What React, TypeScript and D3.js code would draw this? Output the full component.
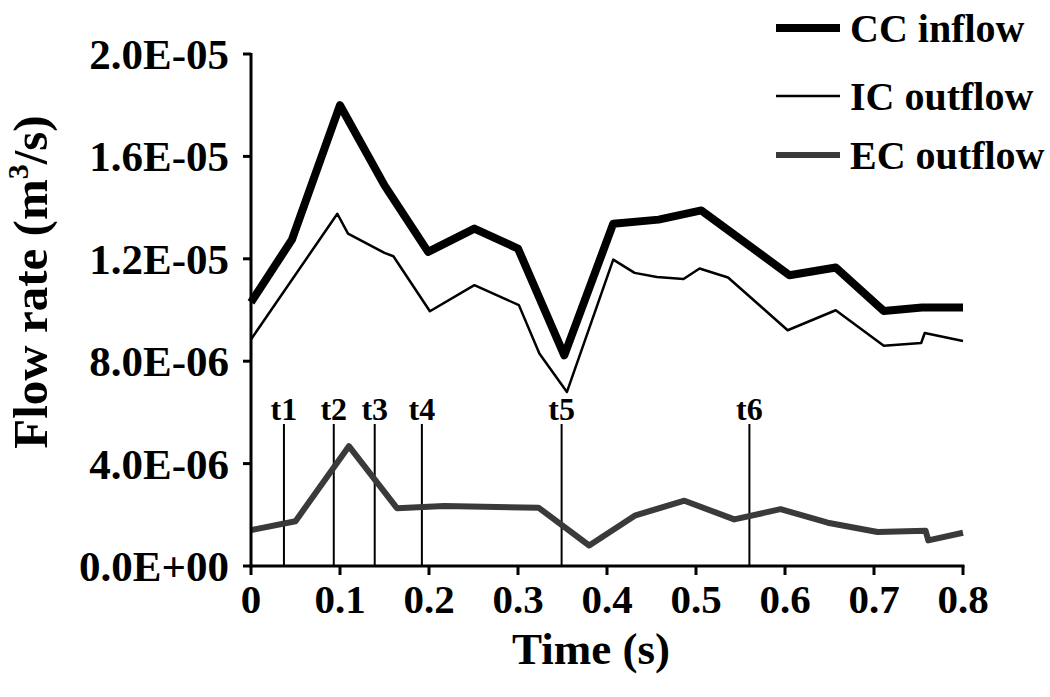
import React from "react";
import * as d3 from "d3";

const ccTime = [0, 0.046, 0.1, 0.15, 0.199, 0.251, 0.3, 0.352, 0.407, 0.458, 0.506, 0.605, 0.657, 0.711, 0.754, 0.8];
const ccFlow = [1.03e-5, 1.275e-5, 1.8e-5, 1.487e-5, 1.227e-5, 1.318e-5, 1.24e-5, 8.23e-6, 1.337e-5, 1.353e-5, 1.389e-5, 1.136e-5, 1.166e-5, 9.96e-6, 1.01e-5, 1.01e-5];

const icTime = [0, 0.097, 0.109, 0.15, 0.16, 0.201, 0.251, 0.301, 0.324, 0.355, 0.407, 0.431, 0.456, 0.486, 0.504, 0.536, 0.603, 0.657, 0.711, 0.753, 0.757, 0.8];
const icFlow = [8.85e-6, 1.376e-5, 1.298e-5, 1.223e-5, 1.21e-5, 9.95e-6, 1.097e-5, 1.019e-5, 8.3e-6, 6.8e-6, 1.197e-5, 1.145e-5, 1.129e-5, 1.121e-5, 1.162e-5, 1.127e-5, 9.21e-6, 9.99e-6, 8.6e-6, 8.71e-6, 9.1e-6, 8.79e-6];

const ecTime = [0, 0.05, 0.11, 0.164, 0.217, 0.323, 0.38, 0.432, 0.487, 0.543, 0.595, 0.648, 0.704, 0.758, 0.761, 0.8];
const ecFlow = [1.4e-6, 1.75e-6, 4.68e-6, 2.26e-6, 2.34e-6, 2.28e-6, 0.8e-6, 1.98e-6, 2.55e-6, 1.82e-6, 2.22e-6, 1.69e-6, 1.33e-6, 1.38e-6, 1.0e-6, 1.3e-6];

const markerTimes = [0.037, 0.093, 0.139, 0.192, 0.349, 0.56];
const markerLabels = ["t1", "t2", "t3", "t4", "t5", "t6"];

const xTicks = [0, 0.1, 0.2, 0.3, 0.4, 0.5, 0.6, 0.7, 0.8];
const xTickLabels = ["0", "0.1", "0.2", "0.3", "0.4", "0.5", "0.6", "0.7", "0.8"];
const yTicks = [0, 4e-6, 8e-6, 1.2e-5, 1.6e-5, 2e-5];
const yTickLabels = ["0.0E+00", "4.0E-06", "8.0E-06", "1.2E-05", "1.6E-05", "2.0E-05"];

const seriesNames = ["CC inflow", "IC outflow", "EC outflow"];

const FONT = "'Liberation Serif', 'Times New Roman', serif";

export default function App() {
  const x = d3.scaleLinear().domain([0, 0.8]).range([251, 963]);
  const y = d3.scaleLinear().domain([0, 2e-5]).range([566, 54]);

  const mk = (t: number[], v: number[]) =>
    d3
      .line<number>()
      .x((_, i) => x(t[i]))
      .y((d) => y(d))(v) as string;

  const series = [
    { name: seriesNames[0], path: mk(ccTime, ccFlow), color: "#000", width: 8 },
    { name: seriesNames[1], path: mk(icTime, icFlow), color: "#000", width: 2.5 },
    { name: seriesNames[2], path: mk(ecTime, ecFlow), color: "#3a3a3a", width: 6 },
  ];

  const legendY = [28, 96, 155];

  return (
    <svg
      width={1050}
      height={697}
      style={{ position: "absolute", left: 0, top: 0, background: "#fff" }}
      fontFamily={FONT}
      fontWeight="bold"
    >
      <rect width={1050} height={697} fill="#fff" />
      {markerTimes.map((t, i) => (
        <g key={markerLabels[i]}>
          <line x1={x(t)} x2={x(t)} y1={424} y2={y(0)} stroke="#000" strokeWidth={2} />
          <text x={x(t)} y={420} textAnchor="middle" fontSize={32}>
            {markerLabels[i]}
          </text>
        </g>
      ))}
      {series.map((s) => (
        <path
          key={s.name}
          d={s.path}
          fill="none"
          stroke={s.color}
          strokeWidth={s.width}
          strokeLinejoin="round"
          strokeLinecap="butt"
        />
      ))}
      <line x1={x(0)} x2={x(0)} y1={y(2e-5) - 1} y2={y(0) + 1.5} stroke="#000" strokeWidth={3} />
      <line x1={x(0) - 1.5} x2={x(0.8) + 1.5} y1={y(0)} y2={y(0)} stroke="#000" strokeWidth={3} />
      {yTicks.map((v, i) => (
        <g key={yTickLabels[i]}>
          <line x1={x(0) - 8} x2={x(0)} y1={y(v)} y2={y(v)} stroke="#000" strokeWidth={3} />
          <text x={229} y={y(v)} dy="0.35em" textAnchor="end" fontSize={43}>
            {yTickLabels[i]}
          </text>
        </g>
      ))}
      {xTicks.map((v, i) => (
        <g key={xTickLabels[i]}>
          <line x1={x(v)} x2={x(v)} y1={y(0)} y2={y(0) + 9} stroke="#000" strokeWidth={3} />
          <text x={x(v)} y={613} textAnchor="middle" fontSize={41}>
            {xTickLabels[i]}
          </text>
        </g>
      ))}
      <text x={591} y={664} textAnchor="middle" fontSize={45}>
        Time (s)
      </text>
      <text transform="translate(47,282) rotate(-90)" textAnchor="middle" fontSize={49}>
        Flow rate (m
        <tspan fontSize={30} dy={-19}>
          3
        </tspan>
        <tspan dy={19}>/s)</tspan>
      </text>
      {series.map((s, i) => (
        <g key={"lg" + s.name}>
          <line x1={776} x2={840} y1={legendY[i]} y2={legendY[i]} stroke={s.color} strokeWidth={s.width} />
          <text x={850} y={legendY[i]} dy="0.35em" fontSize={40}>
            {s.name}
          </text>
        </g>
      ))}
    </svg>
  );
}
